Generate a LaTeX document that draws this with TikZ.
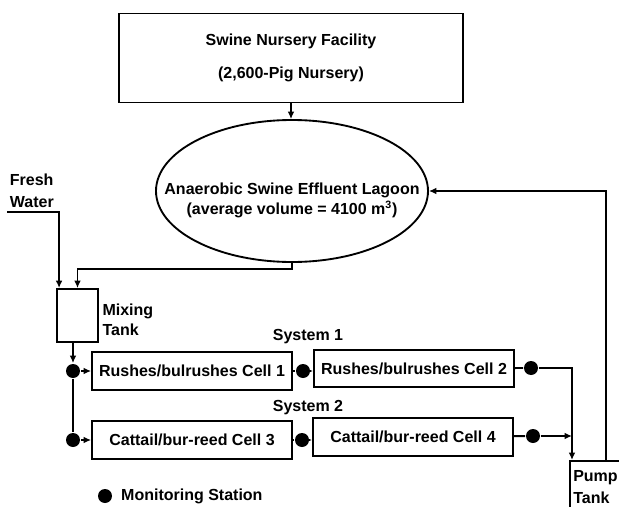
\documentclass[tikz,border=0pt]{standalone}
\usepackage{fontspec}
\setmainfont{Liberation Sans}
\usetikzlibrary{shapes.geometric, arrows.meta, positioning, calc}

\begin{document}
\begin{tikzpicture}[
    x=0.75pt, y=-0.75pt, line width=1.4pt,
    every node/.style={font=\fontsize{12pt}{15pt}\selectfont\bfseries},
    facility/.style={draw, rectangle, minimum width=258pt, minimum height=66.75pt, align=center},
    lagoon/.style={draw, ellipse, minimum width=204pt, minimum height=106.5pt},
    cell/.style={draw, rectangle, minimum width=150pt, minimum height=28pt, inner sep=2pt},
    tank/.style={draw, rectangle, minimum width=30.75pt, minimum height=39.75pt},
    station/.style={circle, fill=black, minimum size=10.5pt, inner sep=0pt},
    lbl/.style={align=left, inner sep=0pt},
    flow/.style={-{Latex[length=5.5pt,width=5pt]}}
  ]
  \useasboundingbox (0,0) rectangle (619,507);

  % Facility and lagoon
  \node[facility] (nursery) at (291,58) {Swine Nursery Facility\\[10pt](2,600-Pig Nursery)};
  \node[lagoon] (lagoon) at (292,191) {};
  \node[align=center] (lagoontxt) at (292,200) {Anaerobic Swine Effluent Lagoon\\(average volume = 4100 m\textsuperscript{3})};

  % Inflows to mixing tank
  \node[lbl, anchor=west] (fresh) at (9,191) {Fresh\\[1.5pt]Water};
  \coordinate (fwin) at (7,212);
  \node[tank] (mix) at (77.5,315.5) {};
  \node[lbl, right=2pt of mix, yshift=-3pt] (mixlbl) {Mixing\\Tank};

  % Monitoring stations
  \node[station] (s1) at (73,371) {};
  \node[station] (s12) at (303,371) {};
  \node[station] (s2) at (531,368) {};
  \node[station] (s3) at (73,440) {};
  \node[station] (s34) at (302,440) {};
  \node[station] (s4) at (533,436) {};

  % Wetland cells
  \node[cell] (c1) at (192,371) {Rushes/bulrushes Cell 1};
  \node[cell] (c2) at (414,368.5) {Rushes/bulrushes Cell 2};
  \node[cell] (c3) at (192,440) {Cattail/bur-reed Cell 3};
  \node[cell] (c4) at (413,437) {Cattail/bur-reed Cell 4};
  \node (sys1) at (308,337) {System 1};
  \node (sys2) at (308,408) {System 2};

  % Pump tank
  \node[draw, anchor=north west, text width=47pt, inner xsep=2.5pt, inner ysep=3pt, minimum height=39pt, align=left] (pump) at (569,460) {Pump\\[1.5pt]Tank};
  \coordinate (pumpin) at ([xshift=2.25pt]pump.north west);
  \coordinate (pumpout) at ([xshift=27.75pt]pump.north west);

  % Legend
  \node[station] (key) at (105,496) {};
  \node[lbl, right=5.5pt of key] (keytxt) {Monitoring Station};

  % Flows
  \draw[flow] (nursery.south) -- (nursery.south |- lagoon.north);
  \draw[flow] (fwin) -| ([xshift=2.25pt]mix.north west);
  \draw[flow] (lagoon.south) -- ++(0,6) -| (mix.north);
  \draw[flow] (s1 |- mix.south) -- (s1);
  \draw (s1) -- (s3);
  \draw[flow] (s1) -- (c1);
  \draw (c1) -- (s12);
  \draw[flow] (s12) -- (s12 -| c2.west);
  \draw (c2) -- (s2);
  \draw[flow] (s2) -| (pumpin);
  \draw[flow] (s3) -- (c3);
  \draw (c3) -- (s34);
  \draw[flow] (s34) -- (s34 -| c4.west);
  \draw (c4) -- (s4);
  \draw[flow] (s4) -- (pumpin |- s4);
  \draw[flow] (pumpout) |- (lagoon.east);
\end{tikzpicture}
\end{document}
